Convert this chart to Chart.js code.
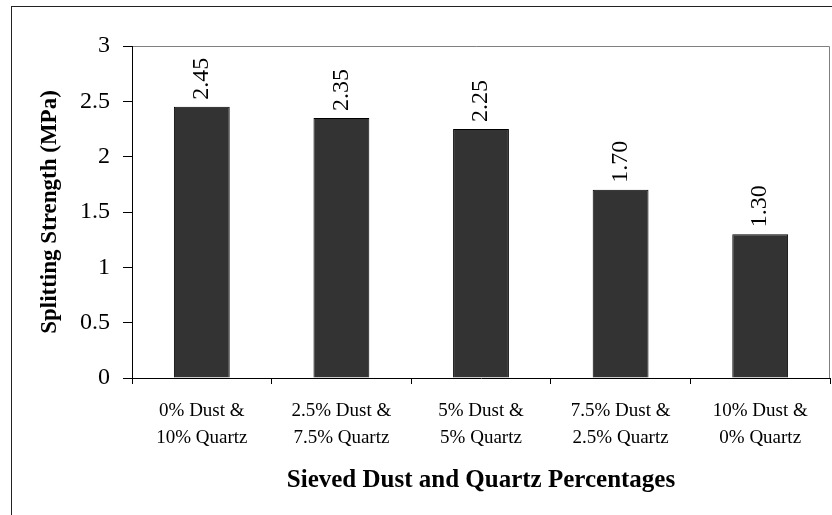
<!DOCTYPE html>
<html>
<head>
<meta charset="utf-8">
<script src="https://cdn.jsdelivr.net/npm/chart.js@4.4.1/dist/chart.umd.min.js"></script>
<style>
  html, body { margin: 0; padding: 0; background: #fff; }
  canvas { display: block; }
</style>
</head>
<body>
<canvas id="chart" width="832" height="515"></canvas>
<script>
const categories = [
  ["0% Dust &", "10% Quartz"],
  ["2.5% Dust &", "7.5% Quartz"],
  ["5% Dust &", "5% Quartz"],
  ["7.5% Dust &", "2.5% Quartz"],
  ["10% Dust &", "0% Quartz"]
];
const strength = [2.45, 2.35, 2.25, 1.70, 1.30];
const yTicks = [0, 0.5, 1, 1.5, 2, 2.5, 3];

const serif = "'Liberation Serif', 'Times New Roman', serif";

// frame round the whole chart + plot area border (top and right)
const framePlugin = {
  id: "frame",
  beforeDraw(chart) {
    const { ctx, chartArea: a } = chart;
    ctx.save();
    ctx.strokeStyle = "#222";
    ctx.lineWidth = 1;
    ctx.strokeRect(11.5, 6.5, 1000, 1000);
    ctx.strokeStyle = "#808080";
    ctx.beginPath();
    ctx.moveTo(a.left - 9, Math.round(a.top) + 0.5);
    ctx.lineTo(Math.round(a.right) - 0.5, Math.round(a.top) + 0.5);
    ctx.lineTo(Math.round(a.right) - 0.5, a.bottom);
    ctx.stroke();
    ctx.restore();
  }
};

// rotated value labels above each bar
const valueLabels = {
  id: "valueLabels",
  afterDatasetsDraw(chart) {
    const { ctx } = chart;
    const meta = chart.getDatasetMeta(0);
    ctx.save();
    ctx.fillStyle = "#000";
    ctx.font = "24px " + serif;
    ctx.textAlign = "left";
    ctx.textBaseline = "middle";
    meta.data.forEach((bar, i) => {
      ctx.save();
      ctx.translate(bar.x, bar.y - 7);
      ctx.rotate(-Math.PI / 2);
      ctx.fillText(strength[i].toFixed(2), 0, 0);
      ctx.restore();
    });
    ctx.restore();
  }
};

new Chart(document.getElementById("chart"), {
  type: "bar",
  data: {
    labels: categories,
    datasets: [{
      data: strength,
      backgroundColor: "#333333",
      borderColor: "#000",
      borderWidth: 1,
      categoryPercentage: 1,
      barPercentage: 0.4
    }]
  },
  options: {
    responsive: false,
    animation: false,
    layout: { padding: { top: 46, right: 2, left: 0, bottom: 0 } },
    plugins: {
      legend: { display: false },
      tooltip: { enabled: false }
    },
    scales: {
      x: {
        afterFit: scale => { scale.height = 137; },
        grid: { offset: true, drawOnChartArea: false, drawTicks: true, tickLength: 6, color: "#000" },
        border: { display: true, color: "#000", width: 1 },
        ticks: {
          color: "#000",
          padding: 13,
          maxRotation: 0,
          autoSkip: false,
          font: { family: serif, size: 19, lineHeight: 1.45 }
        },
        title: {
          display: true,
          text: "Sieved Dust and Quartz Percentages",
          color: "#000",
          padding: { top: 0, bottom: 19 },
          font: { family: serif, size: 25, weight: "bold" }
        }
      },
      y: {
        min: 0,
        max: 3,
        afterFit: scale => { scale.width = 132; },
        afterBuildTicks: scale => { scale.ticks = yTicks.map(v => ({ value: v })); },
        grid: { drawOnChartArea: false, drawTicks: true, tickLength: 9, color: "#000" },
        border: { display: true, color: "#000", width: 1 },
        ticks: {
          color: "#000",
          padding: 13,
          font: { family: serif, size: 24 },
          callback: value => String(value)
        },
        title: {
          display: true,
          text: "Splitting Strength (MPa)",
          color: "#000",
          padding: { top: 36, bottom: 0 },
          font: { family: serif, size: 23, weight: "bold" }
        }
      }
    }
  },
  plugins: [framePlugin, valueLabels]
});
</script>
</body>
</html>
